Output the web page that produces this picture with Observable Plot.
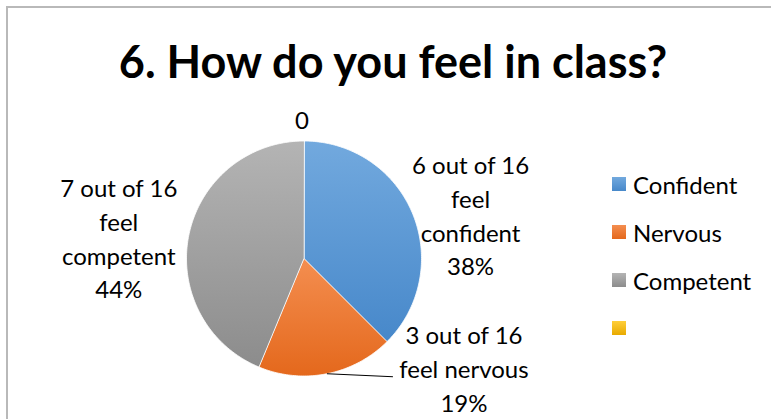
<!DOCTYPE html>
<html><head><meta charset="utf-8">
<script src="https://cdn.jsdelivr.net/npm/d3@7"></script>
<script src="https://cdn.jsdelivr.net/npm/@observablehq/plot@0.6"></script>
<style>
body{margin:0;background:#fff;}
#wrap{position:relative;width:771px;height:419px;overflow:hidden;background:#fff;font-family:Lato,"Open Sans",sans-serif;color:#000;}
#frame{position:absolute;left:6px;top:6px;width:820px;height:520px;border:2px solid #b9b9b9;box-sizing:border-box;}
#title{position:absolute;left:0;top:31px;width:786px;text-align:center;font-weight:700;font-size:45px;line-height:60px;white-space:nowrap;}
#chart{position:absolute;left:0;top:0;}
.leg{position:absolute;left:612px;height:30px;display:flex;align-items:center;font-size:24px;white-space:nowrap;}
.sw{width:14px;height:14px;margin-right:7px;flex:none;}
</style>
</head><body>
<div id="wrap">
  <div id="frame"></div>
  <div id="chart"></div>
  <div id="title"></div>
  <div id="legendBox"></div>
</div>
<script>
// ---- data ----
const title = "6. How do you feel in class?";
const categories = ["Confident", "Nervous", "Competent", ""];
const values = [6, 3, 7, 0];
const labelPhrases = ["feel\nconfident", "feel nervous", "feel\ncompetent", null];
// ---- styles ----
const gradTop = ["#72a9de", "#f48e50", "#b4b4b4", "#ffcf3a"];
const gradBottom = ["#4788ca", "#e4681c", "#8c8c8c", "#e8aa00"];
// label nudges in pixels, relative to the slice's outer mid-point
const labelNudge = [[58, 0.5], [137, -6.5], [-70, 1.5], [-2, -23]];
const leaderEnd = [null, [66, 3], null, null];

const R = 117.5, cx = 303.5, cy = 258, W = 771, H = 419;
const total = d3.sum(values);
const arcs = d3.pie().sort(null).value(d => d)(values);

const slicePts = [];
arcs.forEach((a, i) => {
  if (a.endAngle - a.startAngle <= 0) return;
  slicePts.push({cat: categories[i], x: 0, y: 0});
  const n = Math.max(2, Math.ceil((a.endAngle - a.startAngle) / (Math.PI / 180)));
  for (let k = 0; k <= n; k++) {
    const t = a.startAngle + (a.endAngle - a.startAngle) * k / n;
    slicePts.push({cat: categories[i], x: Math.sin(t), y: Math.cos(t)});
  }
});

const labels = arcs.map((a, i) => {
  const m = (a.startAngle + a.endAngle) / 2;
  const v = values[i];
  const pct = Math.round(v / total * 100);
  const text = v === 0 ? String(v) : `${v} out of ${total}\n${labelPhrases[i]}\n${pct}%`;
  return {x: Math.sin(m) + labelNudge[i][0] / R, y: Math.cos(m) - labelNudge[i][1] / R, text};
});

const leaders = [];
arcs.forEach((a, i) => {
  if (!leaderEnd[i]) return;
  const m = (a.startAngle + a.endAngle) / 2;
  const x1 = Math.sin(m), y1 = Math.cos(m);
  leaders.push({x1, y1, x2: x1 + leaderEnd[i][0] / R, y2: y1 - leaderEnd[i][1] / R});
});

const gradIds = categories.map((c, i) => "grad" + i);

const svg = Plot.plot({
  width: W, height: H,
  marginLeft: cx - R, marginRight: W - cx - R,
  marginTop: cy - R, marginBottom: H - cy - R,
  x: {domain: [-1, 1], axis: null},
  y: {domain: [-1, 1], axis: null},
  color: {type: "ordinal", domain: categories, range: gradIds.map(id => `url(#${id})`)},
  style: {fontFamily: "Lato, 'Open Sans', sans-serif", overflow: "visible", background: "transparent"},
  marks: [
    Plot.line(slicePts, {x: "x", y: "y", z: "cat", fill: "cat", stroke: "white", strokeWidth: 1, strokeOpacity: 0.8, curve: "linear-closed"}),
    Plot.link(leaders, {x1: "x1", y1: "y1", x2: "x2", y2: "y2", stroke: "black", strokeWidth: 1}),
    Plot.text(labels, {x: "x", y: "y", text: "text", fontSize: 24, lineHeight: 1.4, fill: "black"})
  ]
});
document.getElementById("chart").appendChild(svg);

const defs = d3.select(svg).insert("defs", ":first-child");
gradIds.forEach((id, i) => {
  const g = defs.append("linearGradient").attr("id", id).attr("x1", 0).attr("y1", 0).attr("x2", 0).attr("y2", 1);
  g.append("stop").attr("offset", "0%").attr("stop-color", gradTop[i]);
  g.append("stop").attr("offset", "100%").attr("stop-color", gradBottom[i]);
});

document.getElementById("title").textContent = title;
const lb = document.getElementById("legendBox");
categories.forEach((c, i) => {
  const row = document.createElement("div");
  row.className = "leg";
  row.style.top = (169 + i * 48) + "px";
  const sw = document.createElement("div");
  sw.className = "sw";
  sw.style.background = `linear-gradient(${gradTop[i]}, ${gradBottom[i]})`;
  const tx = document.createElement("span");
  tx.textContent = c;
  row.appendChild(sw); row.appendChild(tx);
  lb.appendChild(row);
});
</script>
</body></html>
